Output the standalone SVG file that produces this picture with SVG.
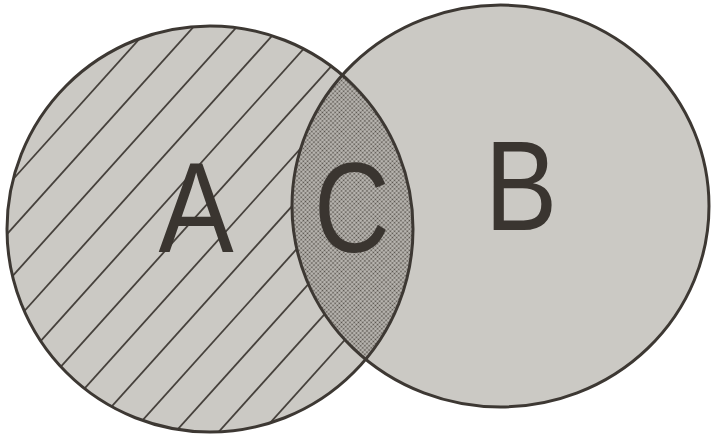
<svg xmlns="http://www.w3.org/2000/svg" width="712" height="438" viewBox="0 0 712 438">
  <defs>
    <style>
      .fill { fill: #cbc9c4; }
      .outline { fill: none; stroke: #3d3833; stroke-width: 3; }
      .hatch { stroke: #46413c; stroke-width: 1.8; }
      .label { font-family: "Liberation Sans", Arial, sans-serif; font-size: 128px; fill: #3a3530; text-anchor: middle; }
    </style>
    <clipPath id="clipA">
      <circle cx="210" cy="229" r="203"/>
    </clipPath>
    <pattern id="dots" width="3" height="3" patternUnits="userSpaceOnUse" patternTransform="rotate(45)">
      <rect width="3" height="3" fill="#bebbb6"/>
      <circle cx="1.5" cy="1.5" r="0.95" fill="#55504a"/>
    </pattern>
  </defs>
  <rect width="712" height="438" fill="#ffffff"/>

  <g id="node-A">
    <circle class="fill" cx="210" cy="229" r="203"/>
    <g clip-path="url(#clipA)" class="hatch">
      <line x1="174.4" y1="0" x2="-221.6" y2="440"/>
      <line x1="217.7" y1="0" x2="-178.3" y2="440"/>
      <line x1="261" y1="0" x2="-135" y2="440"/>
      <line x1="304.3" y1="0" x2="-91.7" y2="440"/>
      <line x1="347.6" y1="0" x2="-48.4" y2="440"/>
      <line x1="390.9" y1="0" x2="-5.1" y2="440"/>
      <line x1="434.2" y1="0" x2="38.2" y2="440"/>
      <line x1="477.5" y1="0" x2="81.5" y2="440"/>
      <line x1="520.8" y1="0" x2="124.8" y2="440"/>
      <line x1="564.1" y1="0" x2="168.1" y2="440"/>
      <line x1="607.4" y1="0" x2="211.4" y2="440"/>
      <line x1="650.7" y1="0" x2="254.7" y2="440"/>
      <line x1="694" y1="0" x2="298" y2="440"/>
    </g>
  </g>

  <g id="node-B">
    <ellipse class="fill" cx="500.5" cy="206" rx="208.5" ry="201"/>
  </g>

  <g id="node-C">
    <ellipse cx="500.5" cy="206" rx="208.5" ry="201" fill="url(#dots)" clip-path="url(#clipA)"/>
  </g>

  <g id="outlines">
    <circle class="outline" cx="210" cy="229" r="203"/>
    <ellipse class="outline" cx="500.5" cy="206" rx="208.5" ry="201"/>
  </g>

  <g id="labels">
    <text class="label" transform="translate(196,252) scale(0.88,1)">A</text>
    <text class="label" transform="translate(352,252) scale(0.82,1)">C</text>
    <text class="label" transform="translate(521,230) scale(0.85,1)">B</text>
  </g>
</svg>
